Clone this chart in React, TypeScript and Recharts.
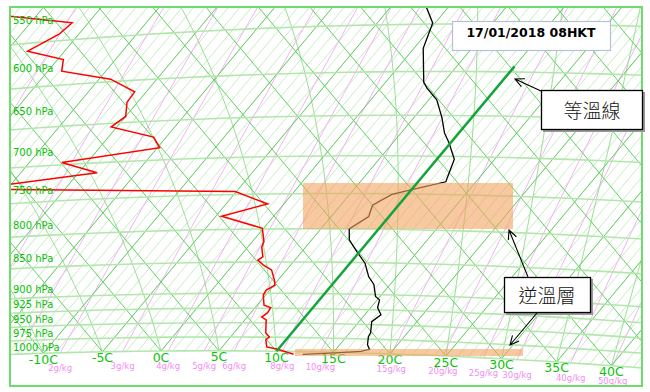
import React from 'react';
import { ComposedChart, Line, Scatter, XAxis, YAxis, ReferenceArea } from 'recharts';

// 17/01/2018 08HKT sounding
const TEMP_P = [533, 549, 575, 612, 618.5, 632, 653, 671, 683, 703.5, 733, 743, 751, 766, 782, 800, 816, 833.5, 851, 872, 884, 903, 908.5, 921.5, 933, 945, 964, 971, 985, 993, 997, 1001, 1005];
const TEMP_T = [-1.9, -0.2, 0.8, 3.3, 4.0, 5.7, 7.45, 8.75, 9.85, 11.5, 12.4, 10.25, 8.65, 7.75, 8.25, 7.45, 8.25, 9.75, 11.3, 12.6, 13.6, 14.6, 15.2, 15.6, 16.4, 16.1, 16.8, 16.9, 17.4, 17.9, 17.3, 15.2, 12.5];
const DEW_P = [519.5, 532, 543, 558.5, 571, 584, 597, 613.5, 625.5, 642.5, 654.5, 670, 684, 697, 713.5, 722.5, 728.5, 746, 764, 780.5, 799, 819, 827, 842, 847, 854.5, 862.5, 879, 887, 895, 903, 920, 924, 933, 940, 945, 967.5, 974.5, 979.5, 992.5, 996, 1005];
const DEW_T = [-37.3, -31.4, -31.7, -33.2, -29.5, -28.8, -24.0, -21.0, -20.9, -20.0, -20.5, -16.1, -14.8, -22.2, -18.4, -25.1, -25.6, -5.1, -1.4, -4.5, -0.1, 1.0, 1.2, 2.0, 1.8, 2.6, 3.7, 4.7, 5.1, 4.7, 4.8, 5.6, 6.35, 6.45, 6.25, 6.85, 7.75, 8.35, 8.25, 8.85, 9.85, 11.7];

const ISOBARS = [550, 600, 650, 700, 750, 800, 850, 900, 925, 950, 975, 1000];
const T_LABELS = [-10, -5, 0, 5, 10, 15, 20, 25, 30, 35, 40];
const MIX_LABELS = [2, 3, 4, 5, 6, 8, 10, 15, 20, 25, 30, 40, 50];
const MIX_EXTRA = [0.5, 1, 1.5];
const SAT_START = [-15, -10, -5, 0, 5, 10, 15, 20, 25, 30, 35, 40];
const MARKED_T = 10; // 等溫線
const MARKED_TOP_P = 594;

// tephigram geometry, px per degree
const A = 5.8, B = 5.85, C = 6.9, D = 7.0;
const K0 = 273.15, KAPPA = 0.286;

const proj = (t: number, p: number) => {
  const v = K0 * Math.log((t + K0) / K0) + K0 * KAPPA * Math.log(1000 / p);
  return { x: A * t + B * v, y: D * v - C * t };
};

const es = (t: number) => 6.112 * Math.exp((17.67 * t) / (t + 243.5));
const dewFromE = (e: number) => {
  const l = Math.log(e / 6.112);
  return (243.5 * l) / (17.67 - l);
};
const mixT = (r: number, p: number) => dewFromE(((r / 1000) * p) / (0.622 + r / 1000));

const range = (a: number, b: number, s: number) => {
  const out: number[] = [];
  for (let v = a; v <= b + 1e-9; v += s) out.push(v);
  return out;
};

const isotherm = (t: number) => [proj(t, 1000), proj(t, 450)];
const dryAdiabat = (th: number) => [proj(th, 1000), proj((th + K0) * Math.pow(0.4, KAPPA) - K0, 400)];
const isobar = (p: number) => range(-70, 60, 2).map((t) => proj(t, p));
const mixLine = (r: number) => range(460, 1000, 20).reverse().map((p) => proj(mixT(r, p), p));

const moistAdiabat = (t0: number) => {
  const f = (tk: number, pp: number) => {
    const e = es(tk - K0);
    const rs = (0.622 * e) / (pp - e);
    return (287.04 * tk + 2.501e6 * rs) / (pp * (1005.7 + (2.501e6 * 2.501e6 * rs * 0.622) / (287.04 * tk * tk)));
  };
  const pts = [proj(t0, 1000)];
  let t = t0 + K0;
  let p = 1000;
  while (p > 470) {
    const dp = -5;
    const k1 = f(t, p);
    const k2 = f(t + k1 * dp, p + dp);
    t += 0.5 * (k1 + k2) * dp;
    p += dp;
    if (p % 20 === 0) pts.push(proj(t - K0, p));
  }
  return pts;
};

const tempData = TEMP_P.map((p, i) => proj(TEMP_T[i], p));
const dewData = DEW_P.map((p, i) => proj(DEW_T[i], p));
const markedData = [proj(MARKED_T, 1000), proj(MARKED_T, MARKED_TOP_P)];

const X_DOMAIN = [-151, 481];
const Y_DOMAIN = [-35, 344];

const pLabels = ISOBARS.map((p) => ({ x: X_DOMAIN[0] + 3, y: proj(0, p).y, label: `${p} hPa` }));
const tLabels = T_LABELS.map((t) => ({ ...proj(t, 1000), label: `${t}C` }));
const mLabels = MIX_LABELS.map((r) => ({ ...proj(mixT(r, 1000), 1000), label: `${r}g/kg` }));

const textShape = (size: number, color: string, anchor: string, dy: number) => (props: any) => (
  <text x={props.cx} y={props.cy + dy} fontSize={size} fill={color} textAnchor={anchor} fontFamily="DejaVu Sans">
    {props.payload.label}
  </text>
);

const line = (key: string, data: any[], stroke: string, w: number, z?: number) => (
  <Line
    key={key}
    data={data}
    dataKey="y"
    type="linear"
    stroke={stroke}
    strokeWidth={w}
    dot={false}
    activeDot={false}
    legendType="none"
    isAnimationActive={false}
    {...(z ? { zIndex: z } : {})}
  />
);

const arrow = (x1: number, y1: number, x2: number, y2: number) => {
  const a = Math.atan2(y2 - y1, x2 - x1);
  const len = 10, w = 0.45;
  const p1 = [x2 - len * Math.cos(a - w), y2 - len * Math.sin(a - w)];
  const p2 = [x2 - len * Math.cos(a + w), y2 - len * Math.sin(a + w)];
  return `M${x1},${y1}L${x2},${y2}M${p1[0]},${p1[1]}L${x2},${y2}L${p2[0]},${p2[1]}`;
};

export default function App() {
  return (
    <div style={{ position: 'relative', width: 650, height: 392, background: '#fff' }}>
      <style>{'body{margin:0}'}</style>
      <ComposedChart width={650} height={392} margin={{ top: 7, right: 8, bottom: 6, left: 10 }}>
        <XAxis type="number" dataKey="x" domain={X_DOMAIN} hide allowDataOverflow />
        <YAxis type="number" dataKey="y" domain={Y_DOMAIN} hide allowDataOverflow />
        {range(-45, 45, 1).map((t) => line(`h${t}`, isotherm(t), '#c6eec0', 1))}
        {[...MIX_EXTRA, ...MIX_LABELS].map((r) => line(`m${r}`, mixLine(r), '#f3b3f3', 1))}
        {SAT_START.map((t) => line(`s${t}`, moistAdiabat(t), '#9adf95', 1))}
        {range(-45, 45, 5).map((t) => line(`t${t}`, isotherm(t), '#62cf62', 1))}
        {range(-20, 85, 5).map((th) => line(`d${th}`, dryAdiabat(th), '#62cf62', 1))}
        {ISOBARS.map((p) => line(`p${p}`, isobar(p), '#b3e6ad', 1.6))}
        {line('dew', dewData, '#ff0000', 1.5)}
        {line('temp', tempData, '#000000', 1.3)}
        <ReferenceArea x1={142} x2={352} y1={122} y2={168} fill="#f4a460" fillOpacity={0.6} stroke="none" zIndex={700} />
        <ReferenceArea x1={134} x2={362} y1={-5} y2={2} fill="#f4a460" fillOpacity={0.6} stroke="none" zIndex={700} />
        {line('marked', markedData, '#14a53a', 2.5, 800)}
        <Scatter data={pLabels} dataKey="y" isAnimationActive={false} shape={textShape(10, '#0abf0a', 'start', 0)} />
        <Scatter data={tLabels} dataKey="y" isAnimationActive={false} shape={textShape(12.5, '#0ac40a', 'middle', 10.5)} />
        <Scatter data={mLabels} dataKey="y" isAnimationActive={false} shape={textShape(8.5, '#f28ef2', 'middle', 18)} />
      </ComposedChart>
      <svg width={650} height={392} style={{ position: 'absolute', left: 0, top: 0, pointerEvents: 'none' }}>
        <rect x={10} y={7} width={632} height={379} fill="none" stroke="#6cdc6c" strokeWidth={2} />
        <rect x={452.5} y={21.5} width={158} height={29} fill="#fff" stroke="#b4c0d4" strokeWidth={1.2} />
        <text x={531} y={37} textAnchor="middle" fontSize={12.5} fontWeight="bold" fontFamily="DejaVu Sans" fill="#000">
          17/01/2018 08HKT
        </text>
        <rect x={543} y={92} width={102} height={40} fill="#999" />
        <rect x={541.5} y={90.5} width={101} height={39} fill="#fff" stroke="#000" strokeWidth={1.3} />
        <text x={592} y={118} textAnchor="middle" fontSize={19} fontFamily="Noto Sans CJK TC" fontWeight={300} fill="#111">
          等溫線
        </text>
        <path d={arrow(541, 91, 515, 79)} stroke="#000" strokeWidth={1.1} fill="none" />
        <rect x={506} y={279} width={87} height={36} fill="#999" />
        <rect x={504.5} y={277.5} width={86} height={35} fill="#fff" stroke="#000" strokeWidth={1.3} />
        <text x={547} y={303} textAnchor="middle" fontSize={19} fontFamily="Noto Sans CJK TC" fontWeight={300} fill="#111">
          逆溫層
        </text>
        <path d={arrow(528, 277, 509, 230)} stroke="#000" strokeWidth={1.1} fill="none" />
        <path d={arrow(537, 313, 510, 345)} stroke="#000" strokeWidth={1.1} fill="none" />
      </svg>
    </div>
  );
}
